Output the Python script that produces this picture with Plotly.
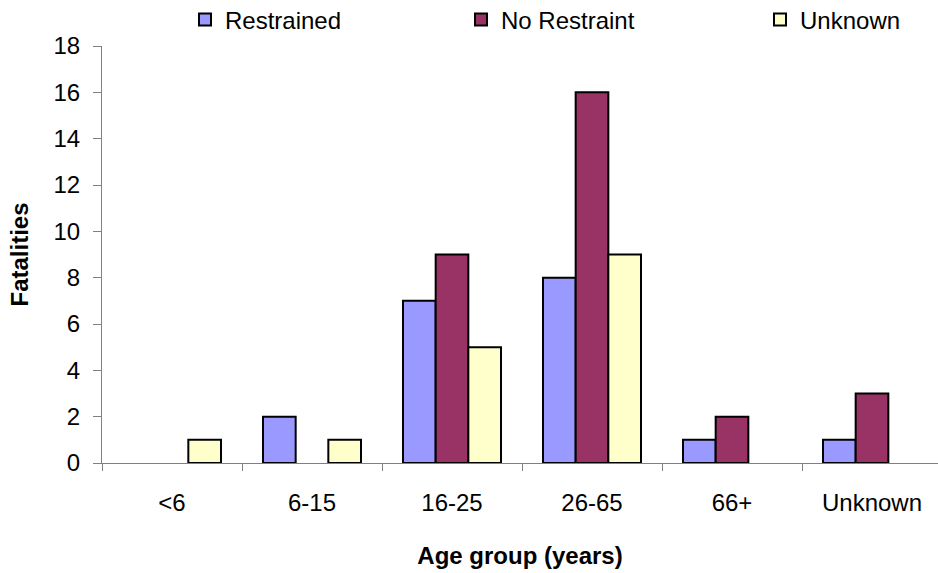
import plotly.graph_objects as go

categories = ["<6", "6-15", "16-25", "26-65", "66+", "Unknown"]
restrained = [0, 2, 7, 8, 1, 1]
no_restraint = [0, 0, 9, 16, 2, 3]
unknown = [1, 1, 5, 9, 0, 0]
y_ticks = [0, 2, 4, 6, 8, 10, 12, 14, 16, 18]

FONT = "Liberation Sans, Arial, sans-serif"
FS = 24

fig = go.Figure()
series = [
    ("Restrained", restrained, "#9999FF", "legend"),
    ("No Restraint", no_restraint, "#993366", "legend2"),
    ("Unknown", unknown, "#FFFFCC", "legend3"),
]
for name, vals, color, lg in series:
    fig.add_trace(go.Bar(
        x=categories, y=[v if v != 0 else None for v in vals], name=name,
        legend=lg, showlegend=True,
        marker=dict(color=color, line=dict(color="black", width=2)),
    ))

W, H = 938, 573
L, T, B = 102, 46, 110
legend_common = dict(orientation="h", xref="container", yref="container",
                     xanchor="left", yanchor="middle", y=1 - 20 / H,
                     font=dict(family=FONT, size=FS, color="black"),
                     bgcolor="rgba(0,0,0,0)", itemwidth=30)
fig.update_layout(
    width=W, height=H, showlegend=True,
    margin=dict(l=L, r=0, t=T, b=B, autoexpand=False),
    paper_bgcolor="white", plot_bgcolor="white",
    barmode="group", bargap=0.30, bargroupgap=0,
    font=dict(family=FONT, size=FS, color="black"),
    legend=dict(x=185 / W, **legend_common),
    legend2=dict(x=461 / W, **legend_common),
    legend3=dict(x=760 / W, **legend_common),
    xaxis=dict(
        type="category", range=[-0.5, 5.5 - 4 / 140],
        showline=True, linecolor="#808080", linewidth=1,
        ticks="outside", tickson="boundaries", ticklen=7, tickcolor="#808080",
        tickfont=dict(family=FONT, size=FS), ticklabelstandoff=18,
        title=dict(text="<b>Age group (years)</b>", font=dict(family=FONT, size=FS), standoff=32),
        showgrid=False, zeroline=False,
    ),
    yaxis=dict(
        range=[0, 18], tickvals=y_ticks,
        showline=True, linecolor="#808080", linewidth=1,
        ticks="outside", ticklen=8, tickcolor="#808080",
        tickfont=dict(family=FONT, size=FS), ticklabelstandoff=8,
        title=dict(text="<b>Fatalities</b>", font=dict(family=FONT, size=FS), standoff=18),
        showgrid=False, zeroline=False,
    ),
)
fig.write_html("out.html")
